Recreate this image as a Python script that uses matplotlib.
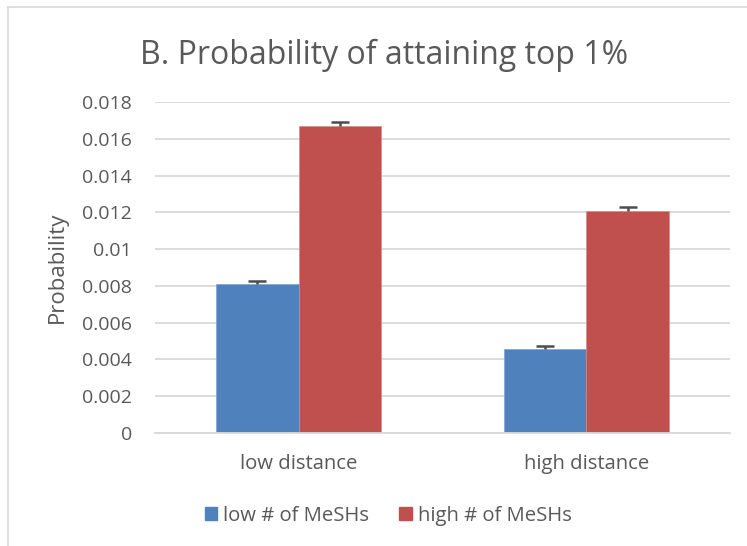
import numpy as np
import matplotlib.pyplot as plt
from matplotlib.lines import Line2D
from matplotlib.patches import Patch

categories = ['low distance', 'high distance']
series_names = ['low # of MeSHs', 'high # of MeSHs']
low_meshs = [0.0081, 0.00457]
high_meshs = [0.01668, 0.01208]
low_err = [0.00014, 0.00017]
high_err = [0.00024, 0.00021]
yticks = [0, 0.002, 0.004, 0.006, 0.008, 0.01, 0.012, 0.014, 0.016, 0.018]
ytick_labels = ['0', '0.002', '0.004', '0.006', '0.008', '0.01', '0.012', '0.014', '0.016', '0.018']

plt.rcParams['font.family'] = ['Open Sans', 'DejaVu Sans']
txt = '#595959'
blue = '#4F81BD'
red = '#C0504D'

fig = plt.figure(figsize=(7.47, 5.46), dpi=100)
ax = fig.add_axes([155 / 747, 1 - 433 / 546, 575 / 747, 331 / 546])

x = np.arange(len(categories))
w = 0.287


def bar_with_err(xx, pos, vals, errs, col, edge, name):
    xx.bar(pos, vals, w, color=col, edgecolor=edge, linewidth=0.5, label=name, zorder=2)
    eb = xx.errorbar(pos, vals, yerr=[np.zeros(len(errs)), errs], fmt='none',
                     ecolor='#4d4d4d', elinewidth=1.8, capsize=6.5, capthick=1.8, zorder=3)
    # only the upper whisker is shown
    eb[1][0].set_visible(False)


bar_with_err(ax, x - w / 2, low_meshs, low_err, blue, '#7fa3d0', series_names[0])
bar_with_err(ax, x + w / 2, high_meshs, high_err, red, '#d88a88', series_names[1])

ax.set_xlim(-0.5, 1.5)
ax.set_ylim(0, 0.018)
ax.set_yticks(yticks)
ax.set_yticklabels(ytick_labels)
ax.set_xticks(x)
ax.set_xticklabels(categories)
ax.yaxis.grid(True, color='#D9D9D9', linewidth=1.3, zorder=0)
ax.set_axisbelow(True)
for s in ['top', 'right', 'left']:
    ax.spines[s].set_visible(False)
ax.spines['bottom'].set_color('#D9D9D9')
ax.spines['bottom'].set_linewidth(1.3)
ax.tick_params(axis='y', length=0, pad=16.5, labelsize=14, labelcolor=txt)
ax.tick_params(axis='x', length=0, pad=15, labelsize=14.6, labelcolor=txt)
ax.set_ylabel('Probability', fontsize=16, color=txt, labelpad=10)

fig.text(384 / 747, 1 - 55 / 546, 'B. Probability of attaining top 1%',
         ha='center', va='center', fontsize=23, color=txt)

handles = [Patch(color=blue), Patch(color=red)]
fig.legend(handles, series_names, loc='center', bbox_to_anchor=(388 / 747, 1 - 516 / 546),
           ncol=2, frameon=False, fontsize=14.6, labelcolor=txt,
           handlelength=0.62, handleheight=0.62, handletextpad=0.28, columnspacing=1.5)

# chart area border
fig.add_artist(Line2D([7.5 / 747, 7.5 / 747], [0, 1 - 7 / 546], color='#D9D9D9', lw=1.2))
fig.add_artist(Line2D([7.5 / 747, 1], [1 - 7 / 546, 1 - 7 / 546], color='#D9D9D9', lw=1.2))

fig.savefig('out.png', dpi=100)
